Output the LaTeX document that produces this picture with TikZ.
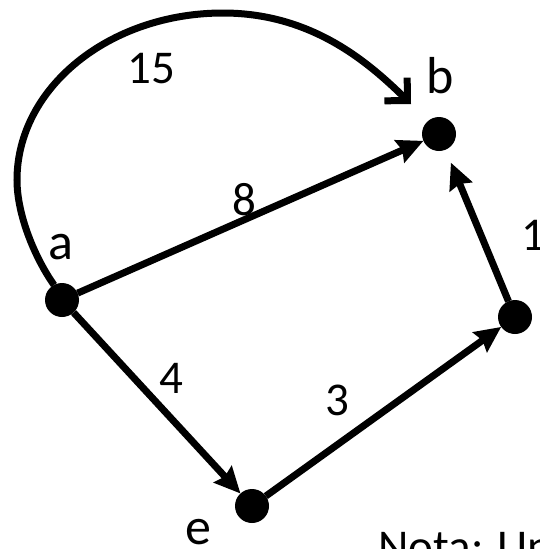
\documentclass[tikz,border=0pt]{standalone}
\usepackage{fontspec}
\setmainfont{Carlito}
\usetikzlibrary{arrows.meta}
\begin{document}
\begin{tikzpicture}[x=1pt,y=-1pt,
  vertex/.style={circle,fill=black,minimum size=34pt,inner sep=0pt,outer sep=0pt},
  edge/.style={line width=7pt,-{Stealth[length=26pt,width=24pt,inset=3pt]}},
  bigedge/.style={line width=7pt,-{Straight Barb[angle=90:23pt,sharp]}},
  num/.style={font=\fontsize{47}{50}\selectfont,anchor=base,inner sep=0pt},
  lett/.style={font=\fontsize{52}{56}\selectfont,anchor=base,inner sep=0pt}]
\useasboundingbox (0,0) rectangle (540,549);
\clip (0,0) rectangle (540,549);
\node[vertex] (a) at (62,300) {};
\node[vertex] (b) at (439,134) {};
\node[vertex] (d) at (515,317) {};
\node[vertex] (e) at (252,506) {};
\coordinate (bend) at (411,104);
\draw[bigedge] (a.118) .. controls (35,258) and (17,215) .. (17,180)
   .. controls (17,88) and (109,13) .. (223,13)
   .. controls (313,13) and (370,64) .. (bend);
\draw[edge] (a) -- (b);
\draw[edge] (a) -- (e);
\draw[edge] (e) -- (d);
\draw[edge,shorten >=14pt] (d) -- (b);
\node[num] (l15) at (151,83) {15};
\node[num] (l8) at (244,215) {8};
\node[num] (l4) at (171,393) {4};
\node[num] (l3) at (337,415) {3};
\node[num,anchor=base west] (l1) at (521,250) {1};
\node[lett] (la) at (61,259) {a};
\node[lett] (lb) at (440,93) {b};
\node[lett] (le) at (198,544) {e};
\node[num,anchor=base west] (nota) at (378,562) {Nota: Un};
\end{tikzpicture}
\end{document}
